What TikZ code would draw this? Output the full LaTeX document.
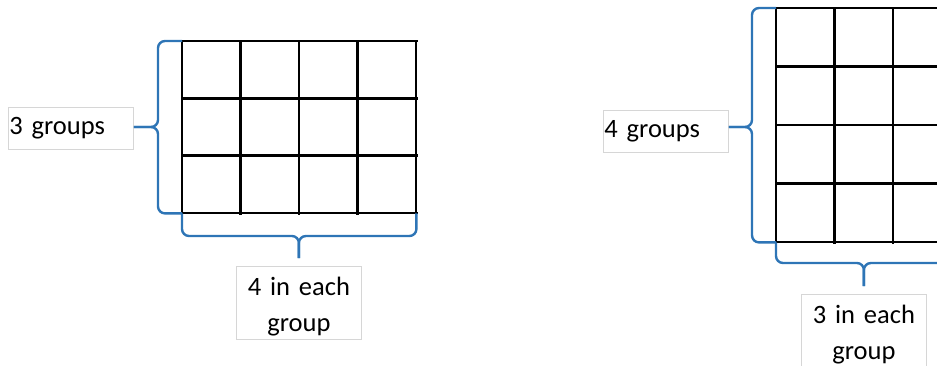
\documentclass[tikz,border=0pt]{standalone}
\usepackage{fontspec}
\setmainfont{Carlito}
\usepackage{xcolor}
\usepackage{tikz}
\usetikzlibrary{positioning,calc}
\definecolor{bracecol}{HTML}{2E75B6}
\definecolor{boxline}{HTML}{D6D6D6}
\tikzset{
  lbox/.style={draw=boxline, line width=0.8pt, fill=white, inner sep=1pt,
               font=\fontsize{26.5}{36}\selectfont, minimum width=125pt},
  onebox/.style={lbox, text width=123pt, inner xsep=0pt, align=left, minimum height=42pt},
  twobox/.style={lbox, text width=121pt, align=center, minimum height=73pt,
                 text height=26pt},
  arraybox/.style={draw=none, inner sep=0pt},
  gridline/.style={line width=2.4pt, line cap=rect},
  bracket/.style={draw=bracecol, line width=2.4pt, rounded corners=7pt},
}

\begin{document}
\begin{tikzpicture}[x=1pt, y=-1pt]
  \useasboundingbox (0,0) rectangle (937,366);
  \clip (0,0) rectangle (937,366);

  % left array: 3 rows of 4
  \node[arraybox, minimum width=234pt, minimum height=172pt, anchor=north west]
    (arrayA) at (182,41) {};
  \foreach \c in {0,1,2,3,4}
    \draw[gridline] ($(arrayA.north west)+(58.5*\c,0)$) -- ($(arrayA.south west)+(58.5*\c,0)$);
  \foreach \r in {0,1,2,3}
    \draw[gridline] ($(arrayA.north west)+(0,57.33*\r)$) -- ($(arrayA.north east)+(0,57.33*\r)$);

  \node[onebox, anchor=north west] (groupsA) at (8,107) {3 groups};
  \node[twobox, anchor=north west] (eachA) at (236,266) {4 in each\\group};

  \coordinate (tipA) at (158,127);
  \draw[bracket] (arrayA.north west) -| (tipA) -- (groupsA.east |- tipA);
  \draw[bracket] (groupsA.east |- tipA) -- (tipA) |- (arrayA.south west);
  \coordinate (tipB) at (eachA.north |- 0,236);
  \draw[bracket] (arrayA.south west) |- (tipB) -- ($(eachA.north)+(0,-8)$);
  \draw[bracket] ($(eachA.north)+(0,-8)$) -- (tipB) -| (arrayA.south east);

  % right array: 4 rows of 3
  \node[arraybox, minimum width=175.5pt, minimum height=234pt, anchor=north west]
    (arrayB) at (776,8) {};
  \foreach \c in {0,1,2,3}
    \draw[gridline] ($(arrayB.north west)+(58.5*\c,0)$) -- ($(arrayB.south west)+(58.5*\c,0)$);
  \foreach \r in {0,1,2,3,4}
    \draw[gridline] ($(arrayB.north west)+(0,58.5*\r)$) -- ($(arrayB.north east)+(0,58.5*\r)$);

  \node[onebox, anchor=north west] (groupsB) at (603,110) {4 groups};
  \node[twobox, anchor=north west] (eachB) at (801,294) {3 in each\\group};

  \coordinate (tipC) at (752,127);
  \draw[bracket] (arrayB.north west) -| (tipC) -- (groupsB.east |- tipC);
  \draw[bracket] (groupsB.east |- tipC) -- (tipC) |- (arrayB.south west);
  \coordinate (tipD) at (eachB.north |- 0,263);
  \draw[bracket] (arrayB.south west) |- (tipD) -- ($(eachB.north)+(0,-8)$);
  \draw[bracket] ($(eachB.north)+(0,-8)$) -- (tipD) -| (arrayB.south east);
\end{tikzpicture}
\end{document}
